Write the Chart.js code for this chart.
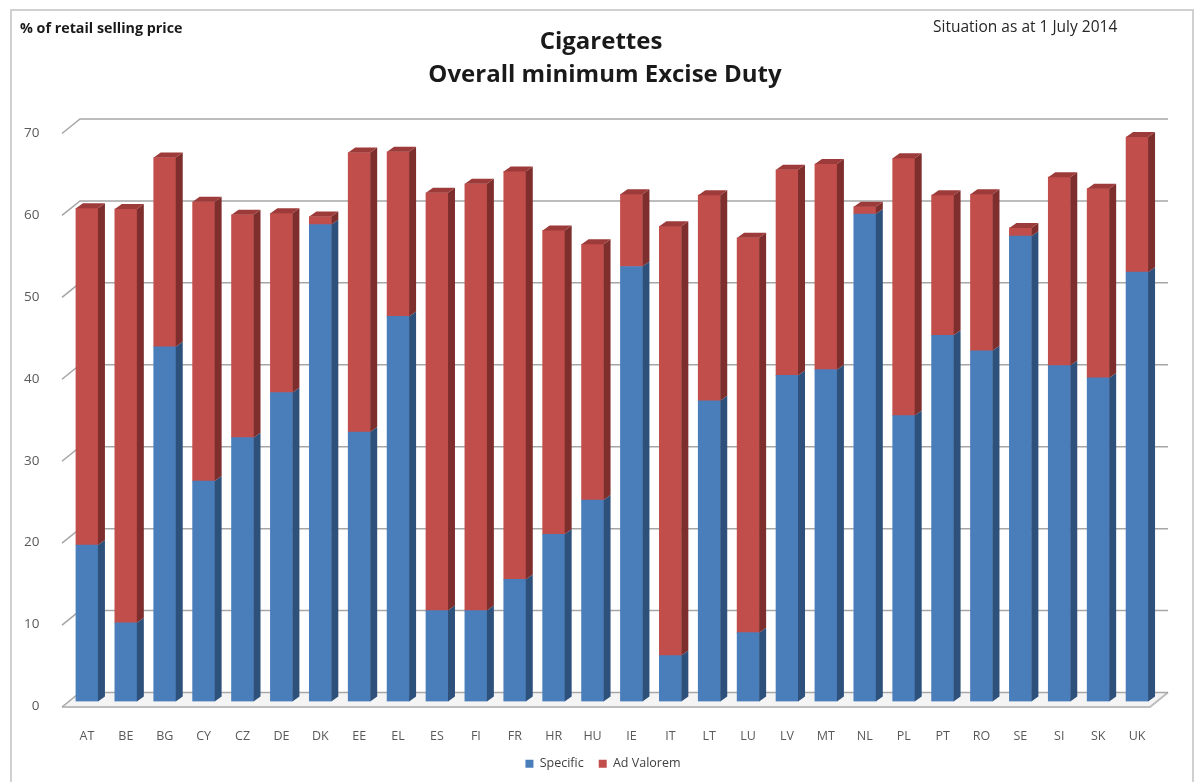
<!DOCTYPE html>
<html>
<head>
<meta charset="utf-8">
<title>Cigarettes – Overall minimum Excise Duty</title>
<script src="https://cdn.jsdelivr.net/npm/chart.js@4.4.1/dist/chart.umd.min.js"></script>
<style>
  html, body { margin: 0; padding: 0; background: #ffffff; }
  canvas { display: block; }
</style>
</head>
<body>
<canvas id="chart" width="1200" height="782"></canvas>
<script>
// Member states (situation as at 1 July 2014)
const countries = ['AT','BE','BG','CY','CZ','DE','DK','EE','EL','ES','FI','FR','HR','HU',
                   'IE','IT','LT','LU','LV','MT','NL','PL','PT','RO','SE','SI','SK','UK'];

// Specific component, % of retail selling price
const specificDuty = [19.1, 9.6, 43.3, 26.9, 32.2, 37.7, 58.2, 32.9, 47.0, 11.1, 11.1, 14.9, 20.4, 24.6,
                      53.1, 5.6, 36.7, 8.4, 39.8, 40.5, 59.5, 34.9, 44.7, 42.8, 56.8, 41.0, 39.5, 52.4];

// Ad valorem component, % of retail selling price
const adValoremDuty = [41.1, 50.5, 23.1, 34.1, 27.2, 21.9, 1.0, 34.1, 20.1, 51.0, 52.1, 49.8, 37.1, 31.2,
                       8.8, 52.4, 25.1, 48.2, 25.1, 25.1, 0.9, 31.4, 17.1, 19.1, 1.0, 23.0, 23.1, 16.5];

// Value axis ticks
const yTicks = [0, 10, 20, 30, 40, 50, 60, 70];

const FONT = '"Open Sans", Lato, "Liberation Sans", sans-serif';

// Colours for the front, side and top faces of each series
const faces = [
  { front: '#4a7ebb', side: '#2e517c', top: '#3b679c' },
  { front: '#c24e4b', side: '#7e2f2d', top: '#9c3b39' }
];

// Depth of the columns and of the wall/floor
const BAR_DX = 7, BAR_DY = 5;
const WALL_X0 = 62, WALL_X1 = 80, WALL_FRONT = 5.5, WALL_BACK = -9, WALL_RIGHT = 1168;

const excel3d = {
  id: 'excel3d',
  beforeDraw(chart) {
    const ctx = chart.ctx;
    ctx.save();
    ctx.fillStyle = '#ffffff';
    ctx.fillRect(0, 0, chart.width, chart.height);
    // outer frame
    ctx.strokeStyle = '#d0d0d0';
    ctx.lineWidth = 2;
    ctx.strokeRect(11, 10, 1182, 800);
    // titles
    ctx.fillStyle = '#1a1a1a';
    ctx.textBaseline = 'middle';
    ctx.textAlign = 'center';
    ctx.font = 'bold 24px ' + FONT;
    ctx.fillText('Cigarettes', 601, 42);
    ctx.fillText('Overall minimum Excise Duty', 605, 75);
    // header notes
    ctx.textAlign = 'left';
    ctx.font = 'bold 14.3px ' + FONT;
    ctx.fillText('% of retail selling price', 20, 29);
    ctx.font = '15.5px ' + FONT;
    ctx.fillStyle = '#262626';
    ctx.fillText('Situation as at 1 July 2014', 933, 28);
    ctx.restore();
  },
  beforeDatasetsDraw(chart) {
    const ctx = chart.ctx;
    const y = chart.scales.y;
    const zero = y.getPixelForValue(0);
    ctx.save();
    // floor
    ctx.beginPath();
    ctx.moveTo(WALL_X0, zero + WALL_FRONT);
    ctx.lineTo(1150, zero + WALL_FRONT);
    ctx.lineTo(WALL_RIGHT, zero + WALL_BACK);
    ctx.lineTo(WALL_X1, zero + WALL_BACK);
    ctx.closePath();
    ctx.fillStyle = '#f4f4f4';
    ctx.fill();
    ctx.strokeStyle = '#bdbdbd';
    ctx.lineWidth = 2;
    ctx.beginPath();
    ctx.moveTo(WALL_X0, zero + WALL_FRONT);
    ctx.lineTo(1150, zero + WALL_FRONT);
    ctx.lineTo(WALL_RIGHT, zero + WALL_BACK);
    ctx.stroke();
    // back-wall gridlines with their slanted ticks
    ctx.strokeStyle = '#a6a6a6';
    ctx.lineWidth = 1.5;
    yTicks.forEach(v => {
      const py = y.getPixelForValue(v);
      ctx.beginPath();
      ctx.moveTo(WALL_X0, py + WALL_FRONT);
      ctx.lineTo(WALL_X1, py + WALL_BACK);
      ctx.lineTo(WALL_RIGHT, py + WALL_BACK);
      ctx.stroke();
    });
    ctx.restore();
  },
  afterDatasetsDraw(chart) {
    const ctx = chart.ctx;
    const last = chart.data.datasets.length - 1;
    ctx.save();
    chart.data.datasets.forEach((ds, di) => {
      const meta = chart.getDatasetMeta(di);
      const col = faces[di];
      meta.data.forEach(bar => {
        const p = bar.getProps(['x', 'y', 'base', 'width'], true);
        const left = p.x - p.width / 2, right = p.x + p.width / 2;
        const top = Math.min(p.y, p.base), bottom = Math.max(p.y, p.base);
        // side face
        ctx.beginPath();
        ctx.moveTo(right, top);
        ctx.lineTo(right + BAR_DX, top - BAR_DY);
        ctx.lineTo(right + BAR_DX, bottom - BAR_DY);
        ctx.lineTo(right, bottom);
        ctx.closePath();
        ctx.fillStyle = col.side;
        ctx.fill();
        // top face on the upper segment
        if (di === last) {
          ctx.beginPath();
          ctx.moveTo(left, top);
          ctx.lineTo(left + BAR_DX, top - BAR_DY);
          ctx.lineTo(right + BAR_DX, top - BAR_DY);
          ctx.lineTo(right, top);
          ctx.closePath();
          ctx.fillStyle = col.top;
          ctx.fill();
        }
      });
    });
    ctx.restore();
  }
};

new Chart(document.getElementById('chart'), {
  type: 'bar',
  data: {
    labels: countries,
    datasets: [
      { label: 'Specific', data: specificDuty, backgroundColor: faces[0].front, borderWidth: 0 },
      { label: 'Ad Valorem', data: adValoremDuty, backgroundColor: faces[1].front, borderWidth: 0 }
    ]
  },
  options: {
    responsive: false,
    devicePixelRatio: 1,
    animation: false,
    layout: { padding: { top: 128, left: 6, right: 0, bottom: 2 } },
    datasets: { bar: { barThickness: 22 } },
    scales: {
      x: {
        stacked: true,
        offset: true,
        grid: { display: false },
        border: { display: false },
        ticks: { autoSkip: false, maxRotation: 0, padding: 19, color: '#595959', font: { family: FONT, size: 12.5 } },
        afterFit(scale) { scale.height = 41; }
      },
      y: {
        stacked: true,
        min: 0,
        max: 70,
        grid: { display: false },
        border: { display: false },
        ticks: { stepSize: 10, padding: 20, labelOffset: 5, color: '#595959', font: { family: FONT, size: 13.5 } },
        afterFit(scale) { scale.width = 61.5; }
      },
      // empty right-hand gutter so the legend centres on the full width
      gutter: {
        position: 'right',
        display: true,
        grid: { display: false },
        border: { display: false },
        ticks: { display: false },
        afterFit(scale) { scale.width = 43.5; }
      }
    },
    plugins: {
      title: { display: false },
      legend: {
        position: 'bottom',
        labels: { boxWidth: 8, boxHeight: 8, padding: 15, color: '#404040', font: { family: FONT, size: 12.5 } }
      },
      tooltip: { enabled: false }
    }
  },
  plugins: [excel3d]
});
</script>
</body>
</html>
